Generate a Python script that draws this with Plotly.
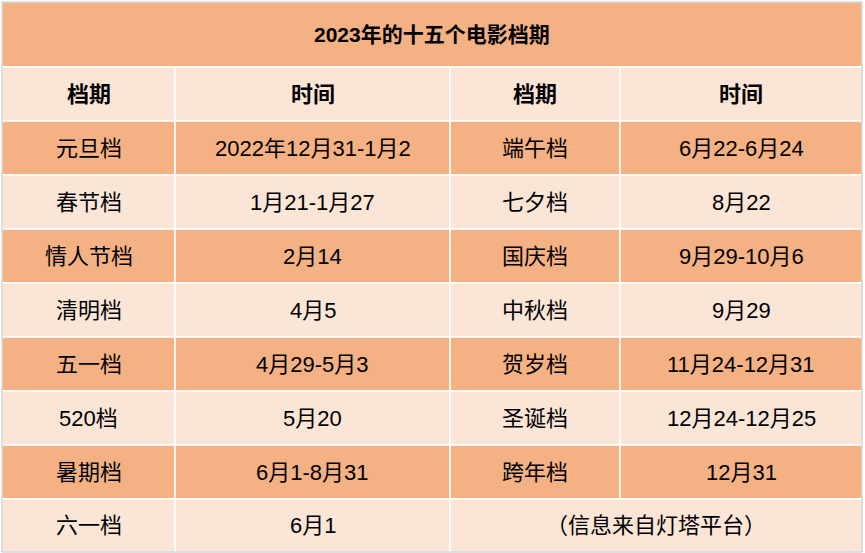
import plotly.graph_objects as go

title = "2023年的十五个电影档期"
headers = ["档期", "时间", "档期", "时间"]
left_names = ["元旦档", "春节档", "情人节档", "清明档", "五一档", "520档", "暑期档", "六一档"]
left_dates = ["2022年12月31-1月2", "1月21-1月27", "2月14", "4月5", "4月29-5月3", "5月20", "6月1-8月31", "6月1"]
right_names = ["端午档", "七夕档", "国庆档", "中秋档", "贺岁档", "圣诞档", "跨年档"]
right_dates = ["6月22-6月24", "8月22", "9月29-10月6", "9月29", "11月24-12月31", "12月24-12月25", "12月31"]
note = "（信息来自灯塔平台）"

col_edges = [2, 175, 450, 620, 862]
row_edges = [2, 67, 121, 175, 229, 283, 337, 391, 445, 499, 552]
ORANGE = "#F4B183"
LIGHT = "#FBE5D6"
FONT = "Liberation Sans, Noto Sans CJK SC"

fig = go.Figure()
shapes, anns = [], []

def cell(x0, x1, y0, y1, fill, text, bold=False, size=22):
    shapes.append(dict(type="rect", x0=x0, x1=x1, y0=y0, y1=y1, fillcolor=fill,
                       line=dict(color="white", width=1.5), layer="below"))
    anns.append(dict(x=(x0 + x1) / 2, y=(y0 + y1) / 2, text=f"<b>{text}</b>" if bold else text,
                     showarrow=False, font=dict(family=FONT, size=size, color="black")))

cell(col_edges[0], col_edges[4], row_edges[0], row_edges[1], ORANGE, title, bold=True, size=21)
for c, h in enumerate(headers):
    cell(col_edges[c], col_edges[c + 1], row_edges[1], row_edges[2], LIGHT, h, bold=True, size=22)

for i in range(len(left_names)):
    y0, y1 = row_edges[i + 2], row_edges[i + 3]
    fill = ORANGE if i % 2 == 0 else LIGHT
    cell(col_edges[0], col_edges[1], y0, y1, fill, left_names[i])
    cell(col_edges[1], col_edges[2], y0, y1, fill, left_dates[i])
    if i < len(right_names):
        cell(col_edges[2], col_edges[3], y0, y1, fill, right_names[i])
        cell(col_edges[3], col_edges[4], y0, y1, fill, right_dates[i])
    else:
        cell(col_edges[2], col_edges[4], y0, y1, fill, note)

shapes.append(dict(type="rect", x0=col_edges[0], x1=col_edges[4], y0=row_edges[0], y1=row_edges[-1],
                   line=dict(color="#BFBFBF", width=1)))

fig.update_layout(width=865, height=553, margin=dict(l=0, r=0, t=0, b=0),
                  paper_bgcolor="white", plot_bgcolor="white",
                  shapes=shapes, annotations=anns,
                  xaxis=dict(range=[0, 865], visible=False, fixedrange=True),
                  yaxis=dict(range=[553, 0], visible=False, fixedrange=True))
fig.write_html("out.html", config={"displayModeBar": False},
               post_script="document.body.style.margin='0';document.body.style.overflow='hidden';")
